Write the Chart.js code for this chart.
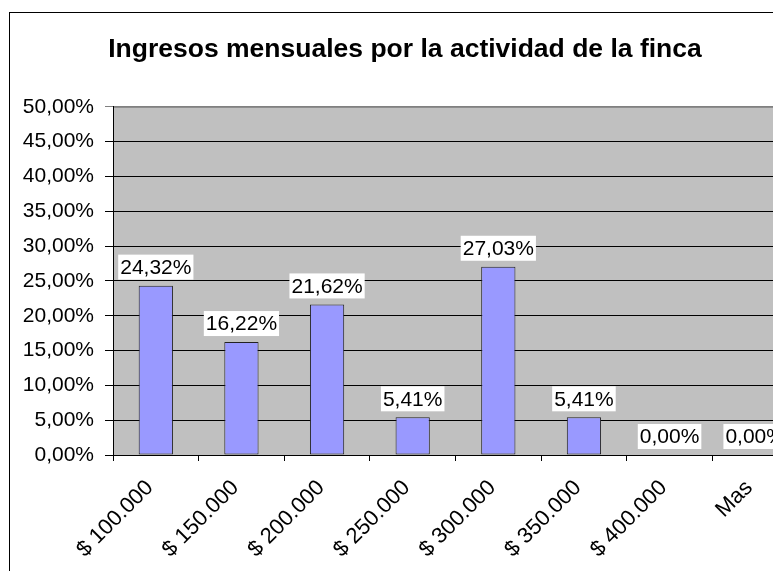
<!DOCTYPE html>
<html>
<head>
<meta charset="utf-8">
<script src="https://cdn.jsdelivr.net/npm/chart.js@4/dist/chart.umd.min.js"></script>
<style>
  html, body { margin: 0; padding: 0; overflow: hidden; background: #fff; }
  #wrap { position: absolute; left: 0; top: 0; width: 810px; height: 571px; }
</style>
</head>
<body>
<div id="wrap"><canvas id="chart"></canvas></div>
<script>
const categories = ['$ 100.000', '$ 150.000', '$ 200.000', '$ 250.000', '$ 300.000', '$ 350.000', '$ 400.000', 'Mas']
const percentages = [24.32, 16.22, 21.62, 5.41, 27.03, 5.41, 0, 0]
const yTicks = [0, 5, 10, 15, 20, 25, 30, 35, 40, 45, 50]

const FONT = '"Liberation Sans", Arial, sans-serif'

function pct(v) {
  return v.toFixed(2).replace('.', ',') + '%'
}

// white background, outer chart border and grey plot area
const backdrop = {
  id: 'backdrop',
  beforeDraw(chart) {
    const { ctx, chartArea: a } = chart
    ctx.save()
    ctx.fillStyle = '#fff'
    ctx.fillRect(0, 0, chart.width, chart.height)
    ctx.strokeStyle = '#000'
    ctx.lineWidth = 1
    ctx.strokeRect(9.5, 12.5, 900, 700)
    ctx.fillStyle = '#c0c0c0'
    ctx.fillRect(a.left, a.top, a.right - a.left, a.bottom - a.top)
    ctx.strokeStyle = '#808080'
    ctx.strokeRect(a.left + 0.5, a.top + 0.5, a.right - a.left, a.bottom - a.top)
    ctx.restore()
  }
}

// value labels in white boxes above the bars
const valueLabels = {
  id: 'valueLabels',
  afterDatasetsDraw(chart) {
    const { ctx } = chart
    const meta = chart.getDatasetMeta(0)
    ctx.save()
    ctx.font = '21px ' + FONT
    ctx.textAlign = 'center'
    ctx.textBaseline = 'middle'
    meta.data.forEach((bar, i) => {
      const text = pct(percentages[i])
      const w = ctx.measureText(text).width + 4
      const h = 25
      const bottom = bar.y - 6
      ctx.fillStyle = '#fff'
      ctx.fillRect(bar.x - w / 2, bottom - h, w, h)
      ctx.fillStyle = '#000'
      ctx.fillText(text, bar.x, bottom - h / 2 + 1)
    })
    ctx.restore()
  }
}

new Chart(document.getElementById('chart'), {
  type: 'bar',
  data: {
    labels: categories,
    datasets: [{
      data: percentages,
      backgroundColor: '#9999ff',
      borderColor: '#222222',
      borderWidth: 1,
      borderSkipped: false,
      barPercentage: 0.4,
      categoryPercentage: 1
    }]
  },
  options: {
    responsive: true,
    maintainAspectRatio: false,
    animation: false,
    layout: { padding: { left: 12, right: 12, top: 0, bottom: 0 } },
    plugins: {
      legend: { display: false },
      tooltip: { enabled: false },
      title: {
        display: true,
        text: 'Ingresos mensuales por la actividad de la finca',
        color: '#000',
        font: { family: FONT, size: 26.5, weight: 'bold' },
        padding: { top: 34, bottom: 41 }
      }
    },
    scales: {
      x: {
        grid: { display: true, drawOnChartArea: false, drawTicks: true, tickLength: 6, color: '#000', offset: true },
        border: { color: '#000', width: 1 },
        ticks: {
          color: '#000',
          font: { family: FONT, size: 22 },
          minRotation: 45,
          maxRotation: 45,
          autoSkip: false,
          labelOffset: -6,
          padding: 14
        },
        afterFit(s) { s.height = 116 }
      },
      y: {
        min: 0,
        max: 50,
        afterBuildTicks(s) { s.ticks = yTicks.map(v => ({ value: v })) },
        grid: {
          color: c => (c.tick && c.tick.value === 50 ? '#808080' : '#000'),
          tickLength: 8
        },
        border: { color: '#000', width: 1 },
        ticks: {
          color: '#000',
          font: { family: FONT, size: 21 },
          padding: 11,
          callback: v => pct(v)
        },
        afterFit(s) { s.width = 101 }
      }
    }
  },
  plugins: [backdrop, valueLabels]
})
</script>
</body>
</html>
